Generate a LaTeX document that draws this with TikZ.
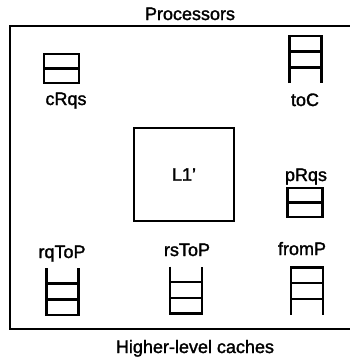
\documentclass[tikz,border=0pt]{standalone}
\usepackage{fontspec}
\setmainfont{Liberation Sans}
\newfontfamily\lblfont{Liberation Sans}[FakeBold=1.6]

\begin{document}
\begin{tikzpicture}[
  x=1pt, y=-1pt,
  font=\lblfont\fontsize{18}{20}\selectfont,
  frame/.style={line width=2.8pt, line join=miter},
  slots/.style={draw, line width=2.3pt, minimum width=35pt, minimum height=29pt, inner sep=0pt,
    path picture={\draw[line width=2.3pt] (path picture bounding box.west) -- (path picture bounding box.east);}},
  cachebox/.style={draw, line width=2.6pt, minimum width=100pt, minimum height=93pt, inner sep=0pt},
  lbl/.style={anchor=base, inner sep=0pt},
  rung/.style={line width=2.3pt},
  qin/.pic={\draw[rung] (-16,-23.5) -- (-16,23.5) -- (16,23.5) -- (16,-23.5);
    \draw[rung] (-16,-8) -- (16,-8) (-16,8) -- (16,8);},
  qout/.pic={\draw[rung] (-16,23.5) -- (-16,-23.5) -- (16,-23.5) -- (16,23.5);
    \draw[rung] (-16,-8) -- (16,-8) (-16,8) -- (16,8);}
]
\useasboundingbox (0,0) rectangle (350,360);

% outer frame, open on the right
\draw[frame] (350,26) -- (10,26) -- (10,329) -- (350,329);
\node[lbl] (procs) at (190,20) {Processors};
\node[lbl] (higher) at (195,353) {Higher-level caches};

% cache
\node[cachebox] (L1) at (184,174.5) {L1’};

% queues
\node[slots] (cRqs) at (61.5,68.5) {};
\node[lbl] (cRqsTxt) at (66,105) {cRqs};
\node[slots] (pRqs) at (305,202.5) {};
\node[lbl] (pRqsTxt) at (306,181) {pRqs};

\coordinate (toC) at (305.5,59.5);
\pic at (toC) {qout};
\node[lbl] (toCTxt) at (305,106) {toC};

\coordinate (fromP) at (307,291);
\pic at (fromP) {qout};
\node[lbl] (fromPTxt) at (302,255) {fromP};

\coordinate (rqToP) at (62.5,291.5);
\pic at (rqToP) {qin};
\node[lbl] (rqToPTxt) at (62,258) {rqToP};

\coordinate (rsToP) at (186,290);
\pic at (rsToP) {qin};
\node[lbl] (rsToPTxt) at (187,256) {rsToP};
\end{tikzpicture}
\end{document}
